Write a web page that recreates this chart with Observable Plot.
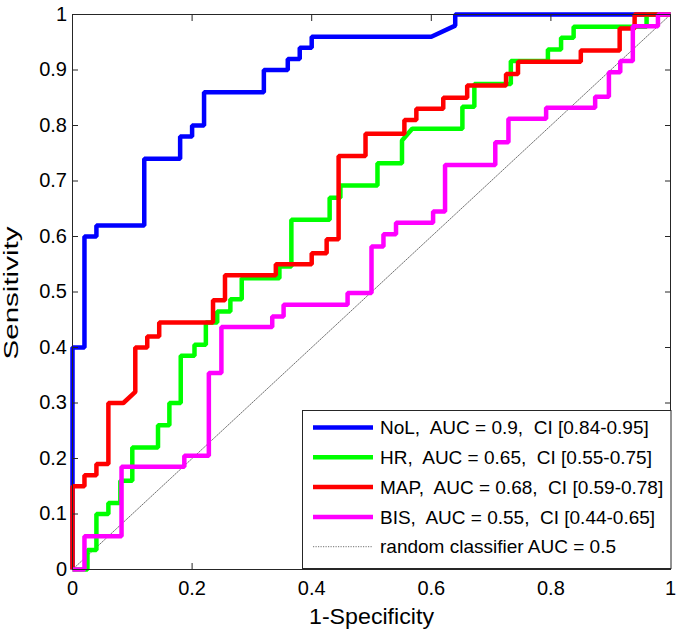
<!DOCTYPE html>
<html>
<head>
<meta charset="utf-8">
<script src="https://cdn.jsdelivr.net/npm/d3@7"></script>
<script src="https://cdn.jsdelivr.net/npm/@observablehq/plot@0.6"></script>
<style>
  body { margin: 0; background: #fff; }
  #chart { width: 685px; height: 632px; }
  svg text { white-space: pre; }
</style>
</head>
<body>
<div id="chart"></div>
<script>
// ---- Data ----
const seriesNames = ["NoL", "HR", "MAP", "BIS"];
const seriesColors = ["#0000ff", "#00ff00", "#ff0000", "#ff00ff"];
const legendLabels = [
  "NoL,  AUC = 0.9,  CI [0.84-0.95]",
  "HR,  AUC = 0.65,  CI [0.55-0.75]",
  "MAP,  AUC = 0.68,  CI [0.59-0.78]",
  "BIS,  AUC = 0.55,  CI [0.44-0.65]",
  "random classifier AUC = 0.5"
];

const nolFpr = [0, 0, 0.02, 0.02, 0.04, 0.04, 0.12, 0.12, 0.18, 0.18, 0.2, 0.2, 0.22, 0.22, 0.32, 0.32, 0.36, 0.36, 0.38, 0.38, 0.4, 0.4, 0.6, 0.64, 0.64, 1];
const nolTpr = [0, 0.4, 0.4, 0.6, 0.6, 0.62, 0.62, 0.74, 0.74, 0.78, 0.78, 0.8, 0.8, 0.86, 0.86, 0.9, 0.9, 0.92, 0.92, 0.94, 0.94, 0.96, 0.96, 0.98, 1, 1];

const hrFpr = [0, 0.025, 0.025, 0.04, 0.04, 0.06, 0.06, 0.08, 0.08, 0.1, 0.1, 0.143, 0.143, 0.162, 0.162, 0.181, 0.181, 0.204, 0.204, 0.223, 0.223, 0.242, 0.242, 0.264, 0.264, 0.283, 0.283, 0.346, 0.346, 0.366, 0.366, 0.43, 0.43, 0.448, 0.448, 0.51, 0.51, 0.551, 0.551, 0.568, 0.652, 0.652, 0.672, 0.672, 0.733, 0.733, 0.795, 0.795, 0.817, 0.817, 0.838, 0.838, 0.96, 0.96, 1];
const hrTpr = [0, 0, 0.035, 0.035, 0.1, 0.1, 0.12, 0.12, 0.16, 0.16, 0.22, 0.22, 0.26, 0.26, 0.3, 0.3, 0.385, 0.385, 0.405, 0.405, 0.445, 0.445, 0.465, 0.465, 0.487, 0.487, 0.525, 0.525, 0.546, 0.546, 0.63, 0.63, 0.67, 0.67, 0.692, 0.692, 0.732, 0.732, 0.773, 0.794, 0.794, 0.834, 0.834, 0.875, 0.875, 0.916, 0.916, 0.937, 0.937, 0.958, 0.958, 0.978, 0.978, 1, 1];

const mapFpr = [0, 0, 0.02, 0.02, 0.04, 0.04, 0.06, 0.06, 0.085, 0.105, 0.105, 0.125, 0.125, 0.145, 0.145, 0.235, 0.235, 0.255, 0.255, 0.34, 0.34, 0.4, 0.4, 0.425, 0.425, 0.445, 0.445, 0.49, 0.49, 0.555, 0.555, 0.575, 0.575, 0.62, 0.62, 0.66, 0.66, 0.725, 0.725, 0.745, 0.745, 0.85, 0.85, 0.915, 0.915, 0.94, 0.94, 1];
const mapTpr = [0, 0.15, 0.15, 0.17, 0.17, 0.19, 0.19, 0.3, 0.3, 0.32, 0.4, 0.4, 0.42, 0.42, 0.445, 0.445, 0.485, 0.485, 0.53, 0.53, 0.55, 0.55, 0.57, 0.57, 0.595, 0.595, 0.745, 0.745, 0.785, 0.785, 0.81, 0.81, 0.83, 0.83, 0.85, 0.85, 0.872, 0.872, 0.893, 0.893, 0.915, 0.915, 0.935, 0.935, 0.975, 0.975, 1, 1];

const bisFpr = [0, 0.02, 0.02, 0.082, 0.082, 0.187, 0.187, 0.228, 0.228, 0.249, 0.249, 0.334, 0.334, 0.353, 0.353, 0.46, 0.46, 0.5, 0.5, 0.52, 0.52, 0.541, 0.541, 0.603, 0.603, 0.623, 0.623, 0.707, 0.707, 0.729, 0.729, 0.792, 0.792, 0.874, 0.874, 0.897, 0.897, 0.916, 0.916, 0.937, 0.937, 0.979, 0.979, 1];
const bisTpr = [0, 0, 0.06, 0.06, 0.185, 0.185, 0.205, 0.205, 0.354, 0.354, 0.437, 0.437, 0.456, 0.456, 0.477, 0.477, 0.498, 0.498, 0.582, 0.582, 0.604, 0.604, 0.625, 0.625, 0.645, 0.645, 0.729, 0.729, 0.77, 0.77, 0.812, 0.812, 0.832, 0.832, 0.852, 0.852, 0.896, 0.896, 0.916, 0.916, 0.979, 0.979, 1, 1];

const randomFpr = [0, 1];
const randomTpr = [0, 1];

const xTicks = [0, 0.2, 0.4, 0.6, 0.8, 1];
const yTicks = [0, 0.1, 0.2, 0.3, 0.4, 0.5, 0.6, 0.7, 0.8, 0.9, 1];
const xLabel = "1-Specificity";
const yLabel = "Sensitivity";

// ---- Build table ----
const seriesData = [[nolFpr, nolTpr], [hrFpr, hrTpr], [mapFpr, mapTpr], [bisFpr, bisTpr]];
const rows = [];
seriesData.forEach(([fx, ty], s) => {
  fx.forEach((v, i) => rows.push({series: seriesNames[s], fpr: v, tpr: ty[i]}));
});
const randomRows = randomFpr.map((v, i) => ({fpr: v, tpr: randomTpr[i]}));

const fmt = d => String(+d.toFixed(1));
const FONT = "'Liberation Sans', Arial, Helvetica, sans-serif";

const plot = Plot.plot({
  width: 685,
  height: 632,
  marginLeft: 72,
  marginRight: 15,
  marginTop: 14,
  marginBottom: 63,
  style: {fontFamily: FONT, fontSize: "20px", background: "#fff", color: "#000", overflow: "visible"},
  x: {domain: [0, 1]},
  y: {domain: [0, 1]},
  color: {domain: seriesNames, range: seriesColors},
  marks: [
    Plot.line(randomRows, {x: "fpr", y: "tpr", stroke: "#707070", strokeWidth: 1, strokeDasharray: "1.2,1.3"}),
    Plot.line(rows, {x: "fpr", y: "tpr", z: "series", stroke: "series", strokeWidth: 4.5, strokeLinejoin: "miter", strokeLinecap: "butt"}),
    Plot.frame({stroke: "#262626", strokeWidth: 1}),
    Plot.axisX(xTicks, {anchor: "bottom", tickSize: -6, tickPadding: 17, tickFormat: fmt, label: null, stroke: "#262626"}),
    Plot.axisX(xTicks, {anchor: "top", tickSize: -6, tickFormat: () => "", label: null, stroke: "#262626"}),
    Plot.axisY(yTicks, {anchor: "left", tickSize: -6, tickPadding: 11.5, tickFormat: fmt, label: null, stroke: "#262626"}),
    Plot.axisY(yTicks, {anchor: "right", tickSize: -6, tickFormat: () => "", label: null, stroke: "#262626"}),
    Plot.text([xLabel], {frameAnchor: "bottom", textAnchor: "middle", lineAnchor: "middle", dy: 47, fontSize: 22, text: d => d, className: "xtitle"}),
    Plot.text([yLabel], {frameAnchor: "left", textAnchor: "middle", lineAnchor: "middle", dx: -61, dy: 1, rotate: -90, fontSize: 20, text: d => d, className: "ytitle"})
  ]
});

document.getElementById("chart").appendChild(plot);

const svg = d3.select(plot);
// stretch axis titles to the reference's measured lengths
svg.selectAll(".xtitle text").attr("textLength", 125).attr("lengthAdjust", "spacingAndGlyphs");
svg.selectAll(".ytitle text").attr("textLength", 133).attr("lengthAdjust", "spacingAndGlyphs");

// ---- Legend (inside plot, lower right) ----
const lg = svg.append("g").attr("class", "legend")
  .attr("font-family", FONT).attr("font-size", 19).attr("text-anchor", "start");
const box = {x: 302.5, y: 410.5, w: 368.5, h: 158};
lg.append("rect").attr("x", box.x).attr("y", box.y).attr("width", box.w).attr("height", box.h)
  .attr("fill", "#fff").attr("stroke", "#262626").attr("stroke-width", 1);
const rowY = i => 427.5 + i * 29.8;
legendLabels.forEach((lab, i) => {
  const isRandom = i === seriesNames.length;
  lg.append("line").attr("x1", 313).attr("x2", 373).attr("y1", rowY(i)).attr("y2", rowY(i))
    .attr("stroke", isRandom ? "#707070" : seriesColors[i])
    .attr("stroke-width", isRandom ? 1 : 4.5)
    .attr("stroke-dasharray", isRandom ? "1.2,1.3" : null);
  lg.append("text").attr("x", 380).attr("y", rowY(i)).attr("dy", "0.35em")
    .attr("text-anchor", "start").text(lab);
});
</script>
</body>
</html>
